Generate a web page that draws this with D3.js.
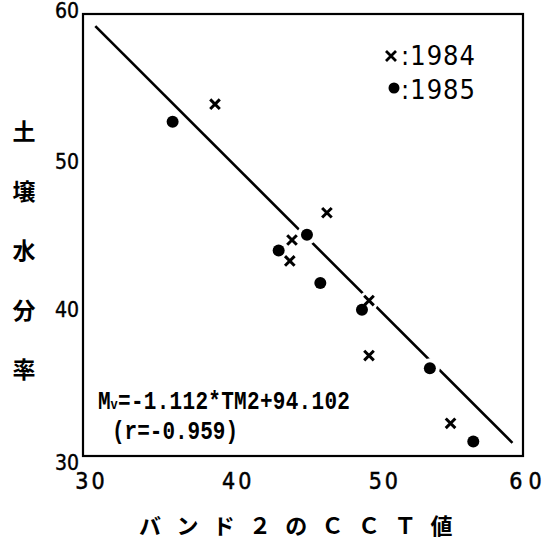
<!DOCTYPE html>
<html>
<head>
<meta charset="utf-8">
<script src="https://cdn.jsdelivr.net/npm/d3@7"></script>
<style>
  body { margin: 0; background: #fff; }
  svg { display: block; }
</style>
</head>
<body>
<div class="canvas"></div>
<script>
// data
const pts1984 = [
    [39.00, 53.88], [46.63, 46.51], [44.25, 44.66], [44.10, 43.24],
    [49.50, 40.55], [49.50, 36.82], [55.06, 32.22]
]
const pts1985 = [
    [36.11, 52.69], [45.27, 45.01], [43.34, 43.94], [46.18, 41.74],
    [49.02, 39.92], [53.65, 35.95], [56.61, 30.98]
]
// regression line as printed (end points)
const fitLine = [[30.84, 59.18], [59.28, 30.89]]
// points where the printed line is broken around the marker
const breaks = [[45.27, 45.01], [49.50, 40.55], [53.65, 35.95]]
const xTicks = [30, 40, 50, 60]
const yTicks = [30, 40, 50, 60]
const yTitle = ['土', '壌', '水', '分', '率']
const xTitle = 'バンド２のＣＣＴ値'
const legendYears = ['1984', '1985']
const eqLine1 = ['M', 'v', '=-1.112*TM2+94.102']
const eqLine2 = '(r=-0.959)'

const svg = d3.select('.canvas')
    .append('svg')
    .attr('width', 551)
    .attr('height', 543)

const margin = { top: 14, right: 28, bottom: 87, left: 83 }
const graphWidth = 551 - margin.left - margin.right
const graphHeight = 543 - margin.top - margin.bottom

const graph = svg.append('g')
    .attr('transform', `translate(${margin.left},${margin.top})`)

const x = d3.scaleLinear().domain([30, 60]).range([0, graphWidth])
const y = d3.scaleLinear().domain([30, 60]).range([graphHeight, 0])

const numFont = '"DejaVu Sans Condensed", "DejaVu Sans", sans-serif'

// frame
graph.append('rect')
    .attr('width', graphWidth)
    .attr('height', graphHeight)
    .attr('fill', 'none')
    .attr('stroke', '#000')
    .attr('stroke-width', 2.2)

// axes
const xAxisGroup = graph.append('g')
    .attr('transform', `translate(0,${graphHeight})`)
    .call(d3.axisBottom(x).tickValues(xTicks).tickSize(0).tickPadding(0))
const yAxisGroup = graph.append('g')
    .call(d3.axisLeft(y).tickValues(yTicks).tickSize(0).tickPadding(4))

xAxisGroup.select('.domain').remove()
yAxisGroup.select('.domain').remove()

xAxisGroup.selectAll('text')
    .attr('font-family', numFont)
    .attr('font-size', 23)
    .attr('letter-spacing', (d) => d === 60 ? 6 : 3)
    .attr('fill', '#000')
    .attr('stroke', '#000')
    .attr('stroke-width', 0.5)
    .attr('y', 0)
    .attr('dy', 33)
    .attr('dx', (d) => d === 60 ? 5 : 8)

yAxisGroup.selectAll('text')
    .attr('font-family', numFont)
    .attr('font-size', 21)
    .attr('fill', '#000')
    .attr('stroke', '#000')
    .attr('stroke-width', 0.4)
    .attr('dy', (d) => d === 60 ? '0.15em' : d === 30 ? '0.62em' : '0.35em')

// regression line
graph.append('path')
    .datum(fitLine)
    .attr('d', d3.line().x(d => x(d[0])).y(d => y(d[1])))
    .attr('fill', 'none')
    .attr('stroke', '#000')
    .attr('stroke-width', 2.6)

// white gaps in the line
graph.selectAll('circle.halo')
    .data(breaks)
    .enter()
    .append('circle')
    .attr('class', 'halo')
    .attr('cx', d => x(d[0]))
    .attr('cy', d => y(d[1]))
    .attr('r', 10)
    .attr('fill', '#fff')

const crossPath = (s) => `M${-s},${-s}L${s},${s}M${s},${-s}L${-s},${s}`

graph.selectAll('path.cross')
    .data(pts1984)
    .enter()
    .append('path')
    .attr('class', 'cross')
    .attr('transform', d => `translate(${x(d[0])},${y(d[1])})`)
    .attr('d', crossPath(4.8))
    .attr('stroke', '#000')
    .attr('stroke-width', 3)

graph.selectAll('circle.dot')
    .data(pts1985)
    .enter()
    .append('circle')
    .attr('class', 'dot')
    .attr('cx', d => x(d[0]))
    .attr('cy', d => y(d[1]))
    .attr('r', 6)
    .attr('fill', '#000')

// legend
const legend = svg.append('g')
legend.append('path')
    .attr('transform', 'translate(391,56)')
    .attr('d', crossPath(5))
    .attr('stroke', '#000')
    .attr('stroke-width', 2.8)
legend.append('circle')
    .attr('cx', 394).attr('cy', 88).attr('r', 5.5)
    .attr('fill', '#000')
legend.selectAll('text')
    .data(legendYears)
    .enter()
    .append('text')
    .attr('x', 401)
    .attr('y', (d, i) => 65 + i * 34)
    .attr('font-family', numFont)
    .attr('font-size', 27)
    .attr('letter-spacing', 1)
    .attr('fill', '#000')
    .text(d => ':' + d)

// equation
const eqFont = '"Liberation Mono", "DejaVu Sans Mono", monospace'
const eqParts = [
    { t: eqLine1[0], x: 98, size: 21 },
    { t: eqLine1[1], x: 110.5, size: 12 },
    { t: eqLine1[2], x: 118, size: 21 }
]
svg.selectAll('text.eq')
    .data(eqParts)
    .enter()
    .append('text')
    .attr('class', 'eq')
    .attr('transform', d => `translate(${d.x},409) scale(1,1.25)`)
    .attr('font-family', eqFont)
    .attr('font-size', d => d.size)
    .attr('font-weight', 'bold')
    .attr('letter-spacing', 0.3)
    .attr('fill', '#000')
    .text(d => d.t)

svg.append('text')
    .attr('transform', 'translate(112,439) scale(1,1.25)')
    .attr('font-family', eqFont)
    .attr('font-size', 21)
    .attr('font-weight', 'bold')
    .attr('fill', '#000')
    .text(eqLine2)

// axis titles
const cjk = '"Noto Sans CJK JP", "Noto Sans CJK SC", sans-serif'
svg.selectAll('text.ytitle')
    .data(yTitle)
    .enter()
    .append('text')
    .attr('class', 'ytitle')
    .attr('x', 24)
    .attr('y', (d, i) => 132 + i * 59.5)
    .attr('dy', '0.36em')
    .attr('text-anchor', 'middle')
    .attr('font-family', cjk)
    .attr('font-size', 23)
    .attr('font-weight', 'bold')
    .text(d => d)

svg.append('text')
    .attr('x', 139)
    .attr('y', 534)
    .attr('font-family', cjk)
    .attr('font-size', 22)
    .attr('font-weight', 'bold')
    .attr('letter-spacing', 14.3)
    .text(xTitle)
</script>
</body>
</html>
